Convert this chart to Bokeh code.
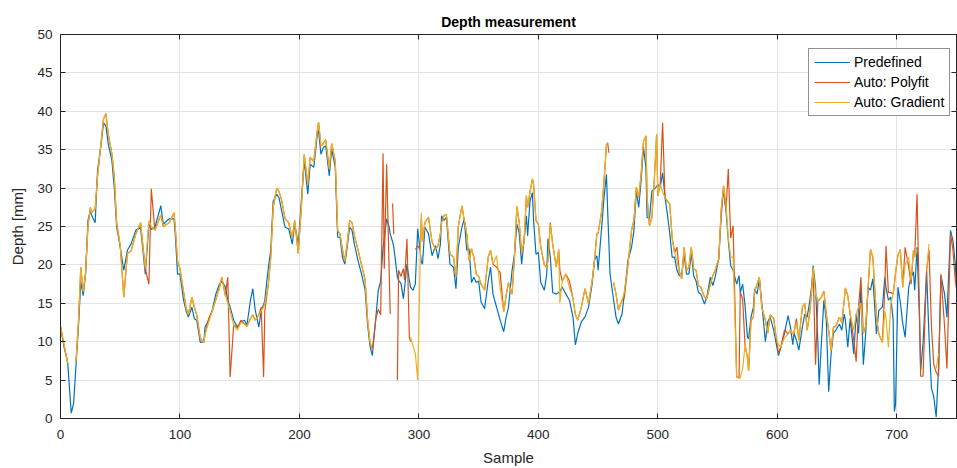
import numpy as np
from bokeh.plotting import figure
from bokeh.models import (ColumnDataSource, LinearAxis, FixedTicker, Legend, LegendItem, Range1d,
                          CustomJSTickFormatter)
from bokeh.embed import file_html
from bokeh.resources import INLINE

nan = float("nan")

title_text = "Depth measurement"
x_label = "Sample"
y_label = "Depth [mm]"
series_names = ["Predefined", "Auto: Polyfit", "Auto: Gradient"]
x_ticks = [0, 100, 200, 300, 400, 500, 600, 700]
y_ticks = [0, 5, 10, 15, 20, 25, 30, 35, 40, 45, 50]

# rows: sample, predefined, polyfit, gradient
sample = [0, 3, 6, 9, 11, 13, 15, 17, 19, 21, 23, 25, 26, 29, 31, 34, 36, 38, 40, 43,
          45, 47, 50, 53, 56, 59, 63, 67, 71, 74, 76, 79, 84, 86, 91, 95, 96, 98, 100, 103,
          105, 107, 110, 112, 114, 117, 120, 121, 124, 127, 130, 133, 135, 138, 140, 142, 145, 148, 151, 154,
          156, 159, 161, 163, 166, 168, 170, 171, 174, 176, 178, 181, 183, 185, 188, 191, 194, 196, 199, 202,
          204, 207, 209, 212, 215, 216, 218, 220, 222, 225, 227, 230, 232, 234, 236, 238, 240, 242, 244, 246,
          249, 252, 255, 257, 259, 261, 264, 266, 268, 270, 271, 273, 275, 276, 277, 278, 279, 280, 282, 283,
          285, 287, 288, 290, 292, 293, 295, 297, 299, 301, 302, 303, 305, 308, 311, 314, 316, 318, 319, 321,
          323, 326, 329, 331, 333, 336, 338, 340, 342, 344, 346, 348, 350, 352, 355, 358, 360, 362, 365, 368,
          371, 373, 375, 378, 380, 382, 384, 386, 388, 390, 391, 393, 395, 396, 398, 400, 402, 405, 407, 408,
          410, 412, 415, 417, 418, 420, 423, 426, 429, 431, 433, 436, 439, 442, 445, 447, 449, 450, 453, 455,
          457, 458, 459, 460, 463, 465, 467, 470, 472, 475, 478, 480, 482, 484, 486, 488, 490, 491, 493, 495,
          497, 499, 500, 502, 504, 506, 508, 510, 512, 514, 516, 518, 520, 522, 524, 526, 528, 530, 532, 534,
          536, 539, 541, 544, 546, 548, 551, 553, 555, 557, 559, 561, 563, 566, 568, 569, 571, 573, 575, 576,
          578, 580, 581, 583, 585, 587, 590, 592, 594, 597, 599, 601, 603, 606, 609, 611, 613, 614, 616, 618,
          621, 623, 625, 627, 629, 630, 632, 634, 635, 637, 639, 641, 643, 645, 647, 649, 652, 654, 656, 657,
          659, 661, 664, 666, 668, 670, 672, 674, 676, 678, 680, 683, 685, 688, 690, 691, 693, 695, 697, 698,
          699, 701, 703, 705, 707, 710, 712, 714, 715, 717, 719, 720, 722, 725, 727, 729, 731, 733, 735, 737,
          740, 742, 745, 747, 749, 750]

predefined = [11.9, 9.3, 7.3, 0.7, 2.0, 7.0, 11.9, 17.8, 16.0, 18.8, 25.8, 27.1, 26.5, 25.5, 32.3, 35.7, 38.5, 38.1, 35.7, 33.6,
              30.1, 24.9, 22.3, 19.3, 21.9, 22.7, 24.5, 24.9, 18.8, 25.3, 24.6, 24.9, 27.7, 25.3, 26.0, 26.0, 24.1, 18.8, 18.8, 15.4,
              14.1, 13.2, 14.5, 13.0, 12.8, 9.9, 10.0, 11.9, 12.8, 14.1, 16.2, 17.5, 17.9, 17.1, 15.4, 14.5, 12.8, 11.9, 12.6, 12.8,
              12.1, 15.4, 16.9, 14.1, 11.9, 14.1, 14.8, 15.4, 19.7, 21.9, 28.3, 29.2, 28.7, 27.1, 24.9, 24.7, 22.7, 25.3, 22.7, 29.2,
              33.6, 29.2, 33.1, 32.7, 37.0, 37.5, 34.4, 35.3, 35.5, 31.6, 35.1, 32.7, 23.6, 23.6, 21.0, 20.1, 22.3, 24.9, 24.5, 22.7,
              20.6, 18.8, 16.7, 12.3, 9.5, 8.2, 13.2, 16.7, 17.9, 22.3, 23.5, 26.0, 25.0, 24.0, 23.5, 23.0, 22.3, 21.0, 18.4, 18.0,
              17.6, 15.6, 17.0, 20.1, 18.0, 17.1, 16.7, 17.5, 24.7, 21.9, 20.4, 20.1, 24.9, 24.1, 21.2, 22.5, 20.8, 22.7, 26.4, 25.8,
              26.2, 20.1, 19.7, 16.9, 22.3, 24.9, 26.0, 21.9, 22.1, 17.7, 18.4, 17.7, 17.9, 15.2, 14.3, 17.9, 19.7, 16.2, 14.5, 12.8,
              11.3, 13.2, 14.5, 19.3, 21.4, 25.3, 24.1, 20.1, 23.2, 26.4, 23.8, 28.3, 29.4, 25.8, 21.4, 21.6, 17.7, 16.7, 18.8, 23.4,
              21.0, 16.4, 16.2, 16.4, 16.6, 17.1, 16.2, 15.4, 13.2, 9.6, 11.1, 12.6, 13.2, 14.5, 17.5, 20.6, 21.2, 19.3, 24.9, 28.8,
              31.8, 27.1, 23.0, 18.8, 15.4, 13.2, 12.3, 13.6, 16.2, 20.6, 22.3, 24.5, 29.6, 27.5, 31.0, 35.3, 32.7, 26.2, 26.0, 29.6,
              29.9, 30.2, 30.5, 30.1, 32.0, 28.8, 26.6, 24.1, 21.0, 21.0, 19.3, 18.6, 18.8, 21.4, 18.8, 18.8, 21.6, 18.6, 17.9, 16.4,
              16.2, 14.9, 15.8, 18.4, 17.3, 18.4, 20.8, 26.2, 29.9, 27.1, 23.2, 19.9, 19.3, 17.5, 18.6, 16.4, 17.5, 14.7, 10.6, 10.4,
              13.2, 14.5, 16.9, 16.2, 18.1, 15.1, 10.0, 12.6, 13.2, 11.5, 9.8, 8.2, 9.3, 11.1, 13.4, 11.9, 9.6, 11.1, 10.2, 8.9,
              11.9, 13.6, 13.2, 15.1, 17.5, 19.9, 17.1, 9.8, 4.4, 10.1, 15.4, 12.8, 3.5, 8.4, 11.1, 11.5, 12.3, 11.5, 13.6, 12.8,
              9.3, 13.0, 8.4, 13.6, 11.1, 17.1, 7.0, 11.1, 17.1, 16.7, 18.2, 11.0, 14.1, 14.5, 18.4, 17.0, 15.4, 15.8, 12.8, 0.9,
              1.9, 17.1, 15.1, 12.4, 10.6, 17.1, 18.4, 19.1, 16.7, 22.3, 13.2, 6.3, 9.8, 19.1, 10.6, 4.0, 2.8, 0.2, 6.7, 18.6,
              16.2, 13.2, 24.5, 23.2, 20.1, 17.0]

polyfit = [12.0, 9.6, 7.2, nan, nan, 7.5, 12.5, 19.7, 16.5, 19.0, 25.0, 27.5, 26.8, 27.3, 31.5, 36.0, 39.0, 39.7, 37.0, 34.5,
           31.5, 25.5, 22.5, 15.8, 21.5, 21.8, 24.0, 25.5, 19.5, 17.5, 29.9, 24.5, 26.5, 25.0, 25.5, 26.8, 25.0, 20.5, 19.5, 16.5,
           14.5, 13.5, 15.8, 14.5, 13.5, 10.5, 9.9, 11.0, 13.0, 14.0, 15.5, 17.0, 18.4, 16.0, 18.4, 5.4, 12.2, 11.8, 12.8, 12.3,
           12.0, 13.0, 13.5, 12.8, 13.5, 14.5, 5.4, 14.0, 17.5, 21.0, 27.5, 30.0, 29.5, 28.5, 26.0, 25.5, 23.5, 25.8, 21.5, 28.5,
           34.4, 30.5, 34.0, 33.5, 37.5, 38.6, 35.5, 35.8, 36.3, 32.5, 35.8, 33.5, 24.5, 24.0, 22.0, 20.5, 22.8, 25.8, 25.5, 23.8,
           22.0, 20.0, 18.0, 13.0, 10.0, 8.9, 13.0, 14.2, 13.5, 34.5, 19.5, 33.1, 20.0, 13.6, nan, 28.0, 24.0, nan, 5.0, 19.3,
           18.5, 19.5, 18.0, 23.4, 10.6, 10.0, nan, 22.0, 22.5, 22.0, 26.0, 23.0, 25.5, 26.2, 23.0, 22.0, 22.5, 24.1, 25.5, 26.4,
           26.6, 21.4, 21.0, 18.4, 25.0, 27.7, 25.8, 24.1, 20.6, 22.1, 21.0, 18.8, 18.5, 17.5, 16.7, 21.0, 21.9, 20.1, 19.7, 19.0,
           13.9, 16.0, 17.7, 16.2, 21.0, 27.5, 25.5, 21.5, 23.0, 29.0, 27.5, 29.5, 31.2, 30.5, 25.8, 25.3, 22.3, 20.0, 19.7, 20.5,
           25.5, 22.7, 19.7, 22.0, 19.3, 17.9, 18.8, 17.9, 15.6, 13.5, 12.8, 14.5, 16.9, 15.0, 17.9, 20.6, 24.1, 24.1, 27.0, 31.0,
           35.7, 35.9, 34.6, nan, 17.7, 16.2, 14.1, 15.4, 15.8, 20.0, 24.5, 25.8, 30.1, 28.8, 31.8, 36.1, 36.8, 28.8, 25.1, 26.2,
           31.0, 37.0, 29.0, 30.5, 38.5, 28.8, 28.3, 27.9, 23.5, 21.6, 22.3, 19.1, 18.2, 22.3, 19.3, 19.7, 22.3, 19.5, 19.3, 17.3,
           17.1, 15.8, 15.6, 17.5, 18.6, 19.3, 20.8, 27.1, 30.3, 27.0, 32.5, 23.5, 25.1, 5.4, 5.4, 16.5, 15.5, 9.6, 8.0, 6.2,
           12.8, 13.2, 16.5, 17.5, 18.4, 14.5, 12.8, 11.1, 13.5, 13.0, 10.6, 8.5, 9.3, 11.5, 11.0, 11.5, 11.0, 11.2, 13.0, 10.2,
           14.5, 15.0, 11.5, 13.6, 17.1, 19.7, 7.0, 15.4, 15.4, 15.8, 16.6, 13.6, 11.5, 8.8, 11.9, 12.0, 13.2, 12.5, 15.4, 17.0,
           16.0, 13.6, 10.2, 7.4, 14.5, 18.4, 11.1, 12.0, 17.1, 22.0, 21.0, 13.2, 11.0, 9.9, 17.1, 22.5, 16.4, 16.4, 16.2, 17.5,
           19.0, 21.3, 22.0, 17.1, 22.3, 19.7, 17.5, 21.9, 21.0, 29.2, 14.0, 5.5, 5.5, 19.3, 22.0, 12.0, 7.0, 6.0, 5.5, 18.8,
           12.0, 6.5, 24.0, 22.0, 18.0, 17.0]

gradient = [12.0, 9.6, 7.2, nan, nan, 7.5, 12.5, 19.7, 16.5, 19.0, 25.0, 27.5, 26.8, 27.3, 31.5, 36.0, 39.0, 39.7, 37.0, 34.5,
            31.5, 25.5, 22.5, 15.8, 21.5, 21.8, 24.0, 25.5, 19.5, 25.8, 25.0, 24.5, 26.5, 25.0, 25.5, 26.8, 25.0, 20.5, 19.5, 16.5,
            14.5, 13.5, 15.8, 14.5, 13.5, 10.5, 9.9, 11.0, 12.5, 14.0, 15.5, 17.0, 18.4, 16.0, 15.0, 14.0, 12.2, 11.5, 12.5, 12.3,
            12.0, 13.0, 13.5, 12.8, 13.5, 14.0, 14.5, 15.0, 17.5, 21.0, 27.5, 30.0, 29.5, 28.5, 26.0, 25.5, 23.5, 25.8, 21.5, 28.5,
            34.4, 30.5, 34.0, 33.5, 37.5, 38.6, 35.5, 35.8, 36.3, 32.5, 35.8, 33.5, 24.5, 24.0, 22.0, 20.5, 22.8, 25.8, 25.5, 23.8,
            22.0, 20.0, 18.0, 13.0, 10.0, 8.9, nan, nan, nan, nan, nan, nan, nan, nan, nan, nan, nan, nan, nan, nan,
            nan, nan, nan, nan, nan, 10.6, 9.5, 8.5, 5.0, 20.0, 26.8, 23.0, 25.5, 26.2, 23.0, 22.0, 22.5, 24.1, 25.5, 26.4,
            26.6, 21.4, 21.0, 18.4, 25.0, 27.7, 25.8, 24.1, 20.6, 22.1, 21.0, 18.8, 18.5, 17.5, 16.7, 21.0, 21.9, 20.1, 21.2, 17.0,
            13.9, 16.0, 17.7, 16.2, 21.0, 27.7, 25.5, 21.5, 23.0, 29.0, 27.5, 29.5, 31.2, 30.5, 25.8, 25.3, 22.3, 20.0, 19.7, 20.5,
            25.3, 22.7, 19.7, 22.0, 15.0, 17.9, 18.8, 17.1, 15.6, 13.5, 12.8, 14.5, 16.9, 15.0, 17.9, 20.6, 24.1, 24.1, 27.0, 31.0,
            35.7, 35.9, nan, nan, 17.7, 16.2, 14.1, 15.4, 16.5, 20.0, 24.5, 25.8, 30.1, 28.8, 31.8, 36.1, 36.8, 28.8, 25.1, 26.2,
            31.0, 37.0, 29.0, 30.5, 29.5, 28.8, 28.3, 27.9, 23.5, 21.6, 20.5, 19.1, 18.2, 22.3, 19.3, 19.7, 22.3, 19.5, 19.3, 17.3,
            17.1, 15.8, 15.6, 17.5, 18.6, 19.3, 20.8, 27.1, 30.3, 28.0, 23.5, 21.0, 21.0, 5.4, 5.2, 5.3, 6.5, 9.6, 7.8, 6.2,
            12.8, 13.2, 16.5, 17.5, 18.4, 14.5, 12.8, 11.1, 13.5, 13.0, 10.6, 9.6, 9.3, 10.5, 11.0, 11.5, 11.0, 11.2, 12.5, 10.2,
            14.5, 15.0, 11.5, 13.6, 17.1, 19.7, 16.2, 15.5, 15.4, 15.8, 16.6, 13.6, 11.5, 8.8, 11.9, 12.0, 13.2, 12.5, 15.4, 17.0,
            16.0, 13.6, 11.5, 13.6, 14.5, 15.0, 11.1, 12.0, 17.1, 22.0, 21.0, 13.2, 11.0, 9.9, 14.0, 13.0, 9.3, 14.9, 16.2, 17.5,
            19.0, 21.3, 22.0, 17.1, 20.0, 21.0, 18.0, 21.9, 21.0, 22.0, nan, nan, nan, 19.3, 22.7, nan, nan, 6.5, 8.5, nan,
            nan, nan, nan, nan, nan, nan]

assert len(sample) == len(predefined) == len(polyfit) == len(gradient)

source = ColumnDataSource(data=dict(
    sample=np.array(sample, dtype=float),
    predefined=np.array(predefined, dtype=float),
    polyfit=np.array(polyfit, dtype=float),
    gradient=np.array(gradient, dtype=float),
))

FONT = "Liberation Sans"
AX = "#262626"

p = figure(width=957, height=468, output_backend="svg", toolbar_location=None,
           x_range=Range1d(0, 750), y_range=Range1d(0, 50),
           min_border_left=60, min_border_right=1, min_border_top=34, min_border_bottom=50,
           background_fill_color="white", border_fill_color="white")

p.title.text = title_text
p.title.align = "center"
p.title.text_font = FONT
p.title.text_font_size = "14px"
p.title.text_font_style = "bold"
p.title.text_color = "#000000"
p.title.standoff = 9

colors = ["#0072BD", "#D95319", "#EDB120"]
r1 = p.line("sample", "predefined", source=source, line_color=colors[0], line_width=1.2)
r2 = p.line("sample", "polyfit", source=source, line_color=colors[1], line_width=1.2)
r3 = p.line("sample", "gradient", source=source, line_color=colors[2], line_width=1.2)

for ax, ticks in ((p.xaxis[0], x_ticks), (p.yaxis[0], y_ticks)):
    ax.ticker = FixedTicker(ticks=ticks)
    ax.major_tick_in = 5
    ax.major_tick_out = 0
    ax.minor_tick_line_color = None
    ax.axis_line_color = AX
    ax.major_tick_line_color = AX
    ax.major_label_text_font = FONT
    ax.major_label_text_font_size = "13.5px"
    ax.major_label_text_color = AX
    ax.axis_label_text_font = FONT
    ax.axis_label_text_font_size = "15px"
    ax.axis_label_text_font_style = "normal"
    ax.axis_label_text_color = AX

p.xaxis[0].axis_label = x_label
p.yaxis[0].axis_label = y_label
p.xaxis[0].major_label_standoff = 11
p.xaxis[0].axis_label_standoff = 7
p.yaxis[0].major_label_standoff = 8
p.yaxis[0].axis_label_standoff = 8

blank = CustomJSTickFormatter(code="return '';")
top_ax = LinearAxis(ticker=FixedTicker(ticks=x_ticks), formatter=blank,
                    major_label_text_font_size="1px", major_label_text_color=None,
                    major_tick_in=5, major_tick_out=0, minor_tick_line_color=None,
                    axis_line_color=AX, major_tick_line_color=AX, major_label_standoff=0)
right_ax = LinearAxis(ticker=FixedTicker(ticks=y_ticks), formatter=blank,
                      major_label_text_font_size="1px", major_label_text_color=None,
                      major_tick_in=5, major_tick_out=0, minor_tick_line_color=None,
                      axis_line_color=AX, major_tick_line_color=AX, major_label_standoff=0)
p.add_layout(top_ax, "above")
p.add_layout(right_ax, "right")

p.xgrid.ticker = FixedTicker(ticks=x_ticks)
p.ygrid.ticker = FixedTicker(ticks=y_ticks)
p.grid.grid_line_color = "#e3e3e3"
p.grid.grid_line_width = 1
p.outline_line_color = AX

legend = Legend(items=[LegendItem(label=series_names[0], renderers=[r1]),
                       LegendItem(label=series_names[1], renderers=[r2]),
                       LegendItem(label=series_names[2], renderers=[r3])],
                location=(748, 302))
legend.label_text_font = FONT
legend.label_text_font_size = "14px"
legend.label_text_color = "#000000"
legend.border_line_color = "#262626"
legend.border_line_width = 1
legend.background_fill_color = "white"
legend.background_fill_alpha = 1.0
legend.glyph_width = 36
legend.glyph_height = 16
legend.label_height = 16
legend.label_standoff = 4
legend.spacing = 4
legend.padding = 5
legend.margin = 0
p.add_layout(legend, "center")

open("out.html", "w").write(file_html(p, INLINE))
